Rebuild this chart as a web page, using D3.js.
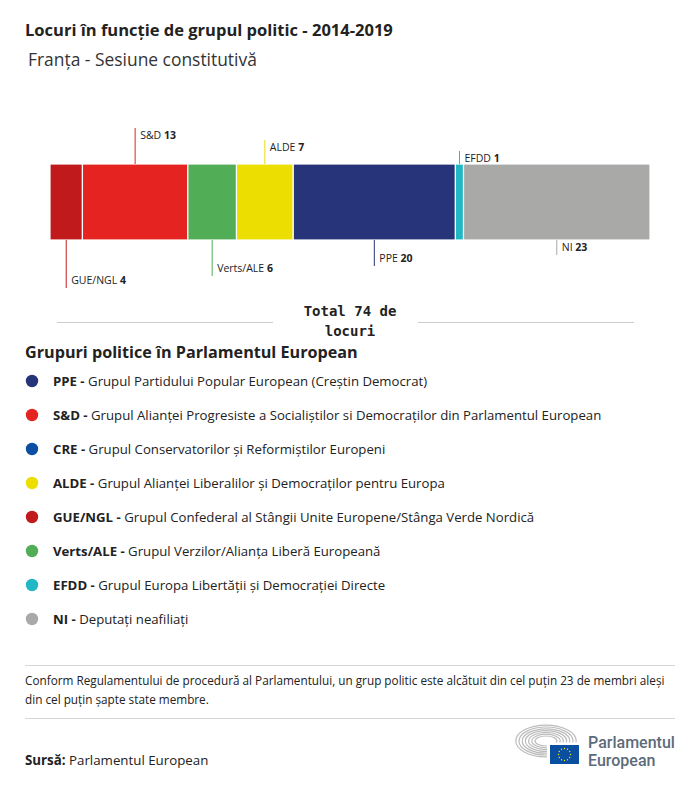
<!DOCTYPE html>
<html><head><meta charset="utf-8">
<script src="https://cdn.jsdelivr.net/npm/d3@7"></script>
<style>
body{margin:0;background:#fff;}
svg{display:block;font-family:"Open Sans", "Noto Sans", sans-serif;}
</style></head>
<body>
<script>
// ---- data ----
const groups = ["GUE/NGL","S&D","Verts/ALE","ALDE","PPE","EFDD","NI"];
const seats  = [4,13,6,7,20,1,23];
const groupColors = ["#c11a1d","#e52421","#51ad56","#ebde00","#283479","#21b8c6","#a9a9a8"];
const total = 74;

const legendAbbr = ["PPE","S&D","CRE","ALDE","GUE/NGL","Verts/ALE","EFDD","NI"];
const legendDesc = [
 "Grupul Partidului Popular European (Creștin Democrat)",
 "Grupul Alianței Progresiste a Socialiștilor si Democraților din Parlamentul European",
 "Grupul Conservatorilor și Reformiștilor Europeni",
 "Grupul Alianței Liberalilor și Democraților pentru Europa",
 "Grupul Confederal al Stângii Unite Europene/Stânga Verde Nordică",
 "Grupul Verzilor/Alianța Liberă Europeană",
 "Grupul Europa Libertății și Democrației Directe",
 "Deputați neafiliați"];
const legendColors = ["#283479","#e52421","#0b4ea2","#ebde00","#c11a1d","#51ad56","#21b8c6","#a9a9a8"];

// label placement (style): side and leader length
const labelSide = ["below","above","below","above","below","above","below"];
const labelLen  = [48,36,36,24,26,13,15];

const W=700,H=786;
const svg=d3.select("body").append("svg").attr("width",W).attr("height",H);

function fitWidth(sel,target){
  const n=sel.node(); const w=n.getComputedTextLength();
  const fs=parseFloat(sel.attr("font-size"));
  sel.attr("font-size",(fs*target/w).toFixed(2));
}

// titles
const t1=svg.append("text").attr("x",25).attr("y",35.5).attr("font-size",16).attr("font-weight",700)
  .attr("fill","#222").text("Locuri în funcție de grupul politic - 2014-2019");
fitWidth(t1,368);
const t2=svg.append("text").attr("x",28).attr("y",65.5).attr("font-size",15.5)
  .attr("fill","#333").text("Franța - Sesiune constitutivă");
fitWidth(t2,229);

// bar
const x=d3.scaleLinear().domain([0,total]).range([50,650]);
const ends=d3.cumsum(seats);
const segs=groups.map((g,i)=>({g,v:seats[i],c:groupColors[i],x0:ends[i]-seats[i],x1:ends[i],side:labelSide[i],len:labelLen[i]}));
const barTop=164,barBot=240;
svg.append("g").selectAll("rect").data(segs).join("rect")
  .attr("x",d=>x(d.x0)).attr("width",d=>x(d.x1)-x(d.x0))
  .attr("y",barTop).attr("height",barBot-barTop).attr("fill",d=>d.c)
  .attr("stroke","#fff").attr("stroke-width",1.2);

const lab=svg.append("g").selectAll("g").data(segs).join("g");
lab.append("line")
  .attr("x1",d=>x((d.x0+d.x1)/2)).attr("x2",d=>x((d.x0+d.x1)/2))
  .attr("y1",d=>d.side==="above"?barTop:barBot)
  .attr("y2",d=>d.side==="above"?barTop-d.len:barBot+d.len)
  .attr("stroke",d=>d.c).attr("stroke-width",1);
const lt=lab.append("text")
  .attr("x",d=>x((d.x0+d.x1)/2)+5)
  .attr("y",d=>d.side==="above"?barTop-d.len+10.5:barBot+d.len-4)
  .attr("font-size",10.5).attr("fill","#222");
lt.append("tspan").text(d=>d.g+" ");
lt.append("tspan").attr("font-weight",700).text(d=>d.v);

// total
svg.append("line").attr("x1",57).attr("x2",273).attr("y1",322.5).attr("y2",322.5).attr("stroke","#ccc");
svg.append("line").attr("x1",418).attr("x2",634).attr("y1",322.5).attr("y2",322.5).attr("stroke","#ccc");
const tt=svg.append("text").attr("text-anchor","middle").attr("font-family","'DejaVu Sans Mono', monospace")
  .attr("font-weight",700).attr("font-size",14).attr("fill","#222");
tt.append("tspan").attr("x",350).attr("y",316).text("Total "+total+" de");
tt.append("tspan").attr("x",350).attr("y",335.5).text("locuri");

// legend
const lt2=svg.append("text").attr("x",25).attr("y",358).attr("font-size",16).attr("font-weight",700)
  .attr("fill","#222").text("Grupuri politice în Parlamentul European");
fitWidth(lt2,333);
const leg=svg.append("g").selectAll("g").data(legendAbbr).join("g")
  .attr("transform",(d,i)=>`translate(0,${381+i*34})`);
leg.append("circle").attr("cx",32).attr("cy",0).attr("r",6.2).attr("fill",(d,i)=>legendColors[i]);
const ltx=leg.append("text").attr("x",53).attr("y",4.5).attr("font-size",13.2).attr("fill","#222");
ltx.append("tspan").attr("font-weight",700).text(d=>d+" - ");
ltx.append("tspan").text((d,i)=>legendDesc[i]);

// footer
svg.append("line").attr("x1",25).attr("x2",675).attr("y1",665.5).attr("y2",665.5).attr("stroke","#d6d6d6");
svg.append("line").attr("x1",25).attr("x2",675).attr("y1",718.5).attr("y2",718.5).attr("stroke","#d6d6d6");
const note=svg.append("text").attr("font-size",11.75).attr("fill","#222");
note.append("tspan").attr("x",25).attr("y",685).text("Conform Regulamentului de procedură al Parlamentului, un grup politic este alcătuit din cel puțin 23 de membri aleși");
note.append("tspan").attr("x",25).attr("y",704).text("din cel puțin șapte state membre.");
const src=svg.append("text").attr("x",25).attr("y",765).attr("font-size",13.3).attr("fill","#222");
src.append("tspan").attr("font-weight",700).text("Sursă: ");
src.append("tspan").text("Parlamentul European");

// logo
const logo=svg.append("g");
for(let k=0;k<7;k++){
  const rx=11+k*3.2, ry=5+k*1.8;
  logo.append("ellipse").attr("cx",546).attr("cy",741).attr("rx",rx).attr("ry",ry)
   .attr("fill","none").attr("stroke","#bcbcbc").attr("stroke-width",1.2);
}
logo.append("rect").attr("x",547).attr("y",742.5).attr("width",35).attr("height",24).attr("fill","#fff");
logo.append("rect").attr("x",550).attr("y",745).attr("width",29).attr("height",19).attr("fill","#0a4ea0");
for(let s=0;s<12;s++){
  const a=s/12*2*Math.PI;
  logo.append("circle").attr("cx",564.5+6*Math.cos(a)).attr("cy",754.5+6*Math.sin(a)).attr("r",0.7).attr("fill","#ffe000");
}
const lgA=svg.append("text").attr("x",588).attr("y",748).attr("font-family","Roboto, sans-serif")
  .attr("font-size",14.5).attr("font-weight",500).attr("fill","#5c6b7a").text("Parlamentul");
fitWidth(lgA,87);
svg.append("text").attr("x",588).attr("y",765.5).attr("font-family","Roboto, sans-serif")
  .attr("font-size",lgA.attr("font-size")).attr("font-weight",500).attr("fill","#5c6b7a").text("European");
</script>
</body></html>
